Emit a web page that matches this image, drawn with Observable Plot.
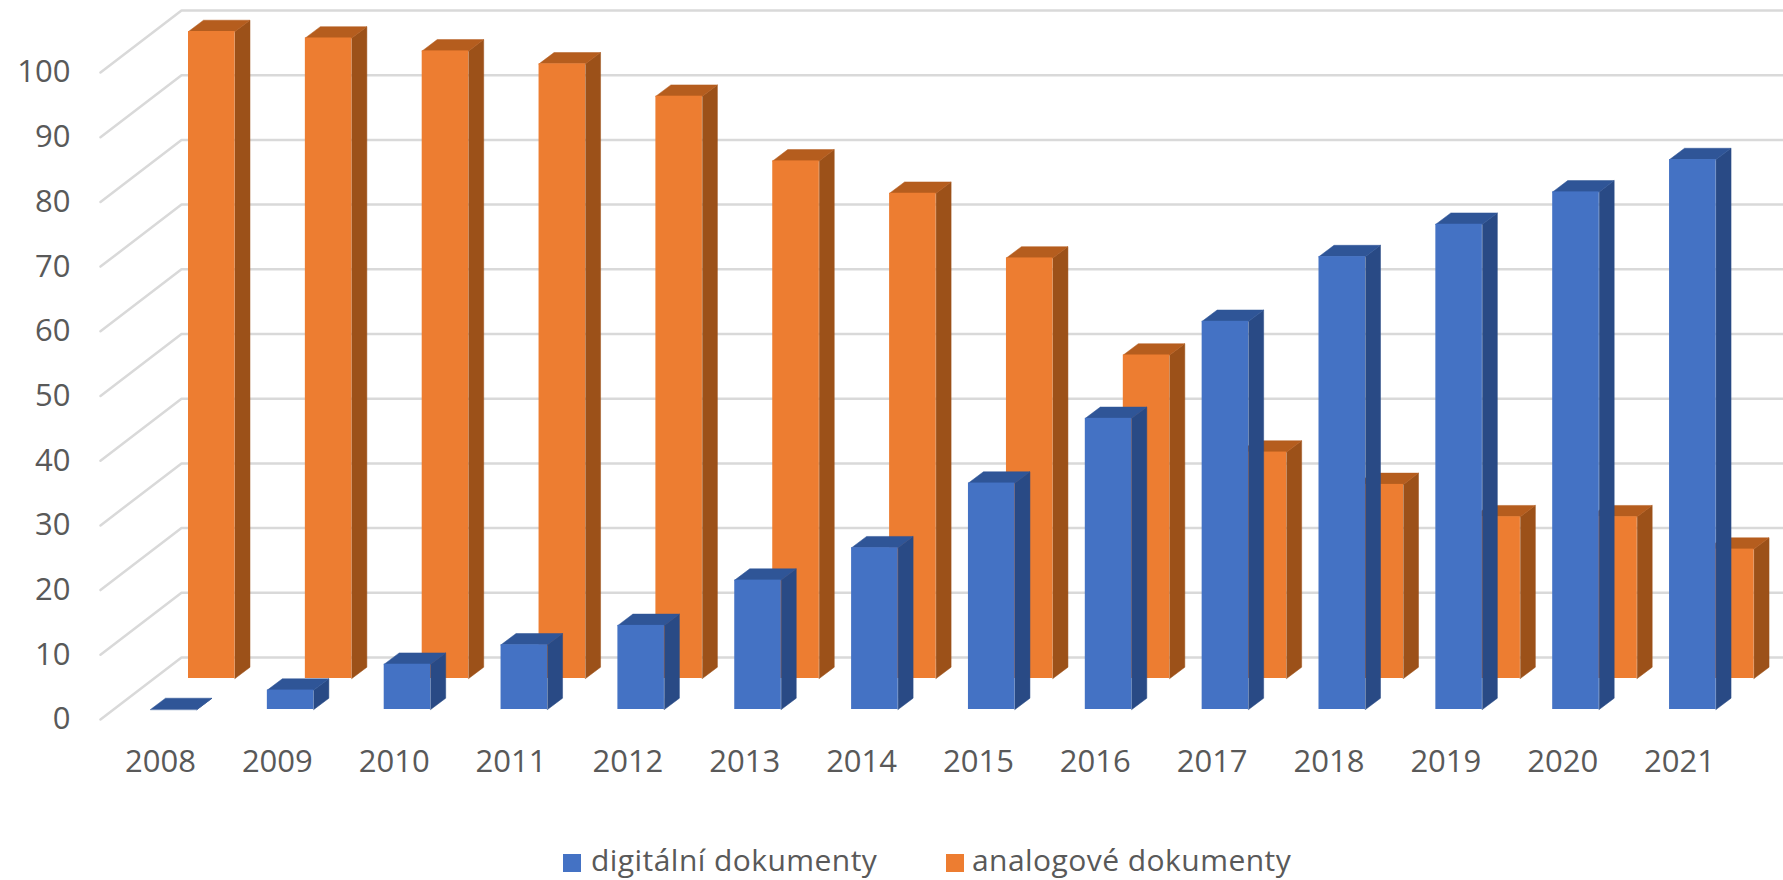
<!DOCTYPE html>
<html lang="cs">
<head>
<meta charset="utf-8">
<script src="https://cdn.jsdelivr.net/npm/d3@7"></script>
<script src="https://cdn.jsdelivr.net/npm/@observablehq/plot@0.6"></script>
<style>
html,body{margin:0;padding:0;background:#fff;overflow:hidden}
#legend{height:40px;position:relative;font-family:"Open Sans",sans-serif;font-size:30px;color:#595959;letter-spacing:.45px}
#legend span{position:absolute;top:0;line-height:40px;white-space:nowrap}
#legend i{position:absolute;top:14px;width:18px;height:18px}
</style>
</head>
<body>
<div id="chart"></div>
<div id="legend"></div>
<script>
const years = [2008,2009,2010,2011,2012,2013,2014,2015,2016,2017,2018,2019,2020,2021];
const digital = [0,3,7,10,13,20,25,35,45,60,70,75,80,85];
const analog = [100,99,97,95,90,80,75,65,50,35,30,25,25,20];
const gridTicks = [0,10,20,30,40,50,60,70,80,90,100];
const seriesNames = ["digitální dokumenty","analogové dokumenty"];

// layout, in scale units
const xDomain = [2007.4865, 2021.8896];
const pxPerYear = 116.85, pxPerUnit = 6.47;
const barW = 46.5 / pxPerYear;
const depthX = 15 / pxPerYear, depthY = 11.3 / pxPerUnit;
const wallX = 81 / pxPerYear, wallY = 62 / pxPerUnit;

function faces(vals, offX, offY){
  const front = [], side = [], top = [];
  vals.forEach((v,i)=>{
    const l = years[i] + offX - barW/2, r = l + barW, b = offY, t = v + offY;
    front.push({x1:l,x2:r,y1:b,y2:t});
    side.push(...[[r,b],[r+depthX,b+depthY],[r+depthX,t+depthY],[r,t]].map(([x,y])=>({x,y,id:i})));
    top.push(...[[l,t],[l+depthX,t+depthY],[r+depthX,t+depthY],[r,t]].map(([x,y])=>({x,y,id:i})));
  });
  return {front,side,top};
}
const blue = faces(digital, 13.25/pxPerYear, 10/pxPerUnit);
const orange = faces(analog, 51.25/pxPerYear, 41/pxPerUnit);

const wall = gridTicks.flatMap(v=>[
  {x:xDomain[0],y:v,id:v},
  {x:xDomain[0]+wallX,y:v+wallY,id:v},
  {x:xDomain[1],y:v+wallY,id:v}
]);

const bars = (f,cFront,cSide,cTop)=>[
  Plot.line(f.side,{x:"x",y:"y",z:"id",fill:cSide,stroke:cSide,strokeWidth:0.5,curve:"linear-closed"}),
  Plot.line(f.top,{x:"x",y:"y",z:"id",fill:cTop,stroke:cTop,strokeWidth:0.5,curve:"linear-closed"}),
  Plot.rect(f.front,{x1:"x1",x2:"x2",y1:"y1",y2:"y2",fill:cFront})
];

const chart = Plot.plot({
  width:1783, height:840,
  marginLeft:100, marginRight:0, marginTop:72, marginBottom:121,
  style:{fontFamily:'"Open Sans",sans-serif',background:"#fff",overflow:"visible"},
  x:{type:"linear",domain:xDomain},
  y:{type:"linear",domain:[0,100]},
  marks:[
    Plot.line(wall,{x:"x",y:"y",z:"id",stroke:"#d9d9d9",strokeWidth:2.5,curve:"linear"}),
    ...bars(orange,"#ed7d31","#9c5119","#b55d1e"),
    ...bars(blue,"#4472c4","#294a85","#2f5597"),
    Plot.axisY({ticks:gridTicks,tickSize:0,tickPadding:30,fontSize:31,color:"#595959",label:null}),
    Plot.axisX({ticks:years,tickFormat:d=>String(d),tickSize:0,tickPadding:30,fontSize:31,color:"#595959",label:null})
  ]
});
document.getElementById("chart").append(chart);

const legend = document.getElementById("legend");
[[seriesNames[0],"#4472c4",563,591],[seriesNames[1],"#ed7d31",946,972]].forEach(([t,c,sx,tx])=>{
  const i=document.createElement("i"); i.style.left=sx+"px"; i.style.background=c; legend.append(i);
  const s=document.createElement("span"); s.style.left=tx+"px"; s.textContent=t; legend.append(s);
});
</script>
</body>
</html>
